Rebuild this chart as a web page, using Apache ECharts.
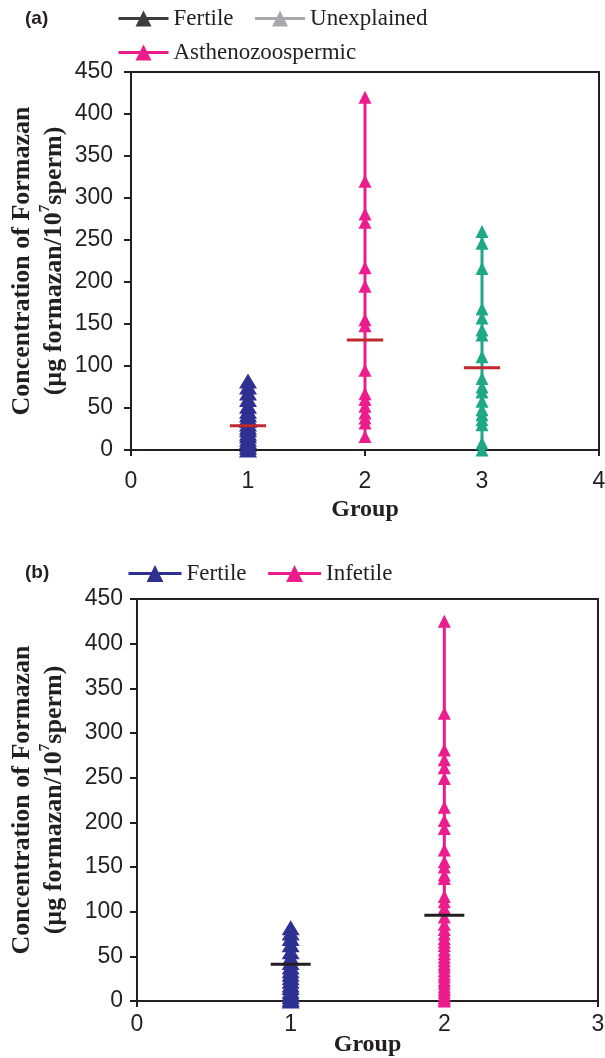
<!DOCTYPE html>
<html><head><meta charset="utf-8">
<script src="https://cdn.jsdelivr.net/npm/echarts@6/dist/echarts.min.js"></script>
<style>
html,body{margin:0;padding:0;background:#fff;}
#a{position:absolute;left:0;top:0;width:605px;height:540px;}
#b{position:absolute;left:0;top:540px;width:605px;height:518px;}
</style>
</head><body><div id="a"></div><div id="b"></div>
<script>
// ---------- Panel (a) data ----------
const groupsA = [1, 2, 3];
const namesA = ['Fertile', 'Asthenozoospermic', 'Unexplained'];
const fertileA = [0, 3, 6, 10, 13, 17, 20, 24, 27, 31, 35, 38, 42, 46, 52, 60, 68, 75, 82];
const asthenoA = [16, 32, 38, 44, 52, 60, 67, 95, 148, 155, 195, 217, 271, 281, 320, 420];
const unexplainedA = [0, 8, 30, 36, 42, 48, 58, 69, 75, 85, 111, 137, 143, 157, 168, 216, 246, 260];
const meansA = [29, 131, 98];
const xTicksA = [0, 1, 2, 3, 4];

// ---------- Panel (b) data ----------
const groupsB = [1, 2];
const namesB = ['Fertile', 'Infetile'];
const fertileB = [0, 2, 5, 8, 11, 15, 18, 22, 26, 30, 34, 38, 43, 48, 55, 63, 70, 76, 82];
const infertileB = [0, 2, 4, 7, 10, 13, 16, 20, 23, 27, 30, 34, 38, 41, 45, 49, 53, 57, 62, 66, 70, 75, 80, 86, 94, 104, 111, 117, 137, 141, 150, 156, 169, 193, 202, 217, 249, 261, 270, 281, 322, 425];
const meansB = [41, 96];
const xTicksB = [0, 1, 2, 3];

const yTicks = [0, 50, 100, 150, 200, 250, 300, 350, 400, 450];

const yName = 'Concentration of Formazan\n(\u00b5g formazan/10{sup|7}sperm)';
const serif = '"Liberation Serif","Times New Roman",serif';
const sans = '"Liberation Sans",Arial,sans-serif';
const ink = '#231f20';

function pts(x, vals) { return vals.slice().sort((a, b) => a - b).map(v => [x, v]); }

function axes(xTicks, nameGap, xLabelMargin, xNameGap, yLabelMargin) {
  return {
    xAxis: {
      type: 'value', min: xTicks[0], max: xTicks[xTicks.length - 1], interval: 1,
      name: 'Group', nameLocation: 'middle', nameGap: xNameGap, nameMoveOverlap: false,
      nameTextStyle: { fontFamily: serif, fontWeight: 'bold', fontSize: 24, color: ink },
      axisLine: { lineStyle: { color: ink, width: 2 } },
      axisTick: { show: true, inside: false, length: 6, lineStyle: { color: ink, width: 2 } },
      axisLabel: { fontFamily: sans, fontSize: 23, color: ink, margin: xLabelMargin },
      splitLine: { show: false }
    },
    yAxis: {
      type: 'value', min: yTicks[0], max: yTicks[yTicks.length - 1], interval: 50,
      name: yName, nameLocation: 'middle', nameGap: nameGap, nameMoveOverlap: false,
      nameTextStyle: {
        fontFamily: serif, fontWeight: 'bold', fontSize: 26, lineHeight: 32, color: ink,
        rich: { sup: { fontFamily: serif, fontWeight: 'bold', fontSize: 15, color: ink, verticalAlign: 'top', lineHeight: 32 } }
      },
      axisLine: { show: true, lineStyle: { color: ink, width: 2 } },
      axisTick: { show: true, inside: false, length: 7, lineStyle: { color: ink, width: 2 } },
      axisLabel: { fontFamily: sans, fontSize: 23, color: ink, margin: yLabelMargin },
      splitLine: { show: false }
    }
  };
}

function groupSeries(name, x, vals, color, size) {
  return {
    name: name, type: 'line', data: pts(x, vals), symbol: 'triangle', symbolSize: size,
    showSymbol: true, itemStyle: { color: color }, lineStyle: { color: color, width: 3 },
    z: 3
  };
}
function meanSeries(x, m, half, color) {
  return {
    name: 'mean' + x, type: 'line', data: [[x - half, m], [x + half, m]], showSymbol: false,
    symbol: 'none', lineStyle: { color: color, width: 3 }, z: 5
  };
}

const blue = '#2e3192', pink = '#ec1c8c', teal = '#1ea886', red = '#c1272d';

// ---------- Chart A ----------
const chartA = echarts.init(document.getElementById('a'));
const axA = axes(xTicksA, 61, 20, 48, 18);
const valsA = [fertileA, asthenoA, unexplainedA];
const colsA = [blue, pink, teal];
const sizesA = [[18, 15], [13, 13], [13, 13]];
const seriesA = [];
groupsA.forEach((g, i) => seriesA.push(groupSeries(namesA[i], g, valsA[i], colsA[i], sizesA[i])));
groupsA.forEach((g, i) => seriesA.push(meanSeries(g, meansA[i], 0.155, red)));
chartA.setOption({
  animation: false,
  grid: { left: 131, top: 72, width: 468, height: 378, outerBoundsMode: 'none', containLabel: false,
          show: true, borderColor: ink, borderWidth: 2, backgroundColor: 'transparent' },
  xAxis: axA.xAxis, yAxis: axA.yAxis,
  legend: [
    { left: 117, top: 7, padding: 0, itemWidth: 50, itemHeight: 20, itemGap: 20,
      textStyle: { fontFamily: serif, fontSize: 23, color: ink },
      data: [
        { name: 'Fertile', itemStyle: { color: '#3d3d3f' }, lineStyle: { color: '#3d3d3f', width: 3 } },
        { name: 'Unexplained', itemStyle: { color: '#a7a9ac' }, lineStyle: { color: '#a7a9ac', width: 3 } }
      ] },
    { left: 117, top: 41, padding: 0, itemWidth: 50, itemHeight: 20,
      textStyle: { fontFamily: serif, fontSize: 23, color: ink },
      data: [{ name: 'Asthenozoospermic', itemStyle: { color: pink }, lineStyle: { color: pink, width: 3 } }] }
  ],
  graphic: [{ type: 'text', left: 25, top: 9, style: { text: '(a)', font: 'bold 19px ' + sans, fill: ink } }],
  series: seriesA
});

// ---------- Chart B ----------
const chartB = echarts.init(document.getElementById('b'));
const axB = axes(xTicksB, 67, 12, 32, 14);
const valsB = [fertileB, infertileB];
const colsB = [blue, pink];
const sizesB = [[18, 15], [13, 13]];
const seriesB = [];
groupsB.forEach((g, i) => seriesB.push(groupSeries(namesB[i], g, valsB[i], colsB[i], sizesB[i])));
groupsB.forEach((g, i) => seriesB.push(meanSeries(g, meansB[i], 0.13, ink)));
chartB.setOption({
  animation: false,
  grid: { left: 137, top: 59, width: 461, height: 402, outerBoundsMode: 'none', containLabel: false,
          show: true, borderColor: ink, borderWidth: 2, backgroundColor: 'transparent' },
  xAxis: axB.xAxis, yAxis: axB.yAxis,
  legend: [
    { left: 127, top: 22, padding: 0, itemWidth: 53, itemHeight: 21, itemGap: 20,
      textStyle: { fontFamily: serif, fontSize: 23, color: ink },
      data: [
        { name: 'Fertile', itemStyle: { color: blue }, lineStyle: { color: blue, width: 3 } },
        { name: 'Infetile', itemStyle: { color: pink }, lineStyle: { color: pink, width: 3 } }
      ] }
  ],
  graphic: [{ type: 'text', left: 25, top: 23, style: { text: '(b)', font: 'bold 19px ' + sans, fill: ink } }],
  series: seriesB
});
</script>
</body></html>
